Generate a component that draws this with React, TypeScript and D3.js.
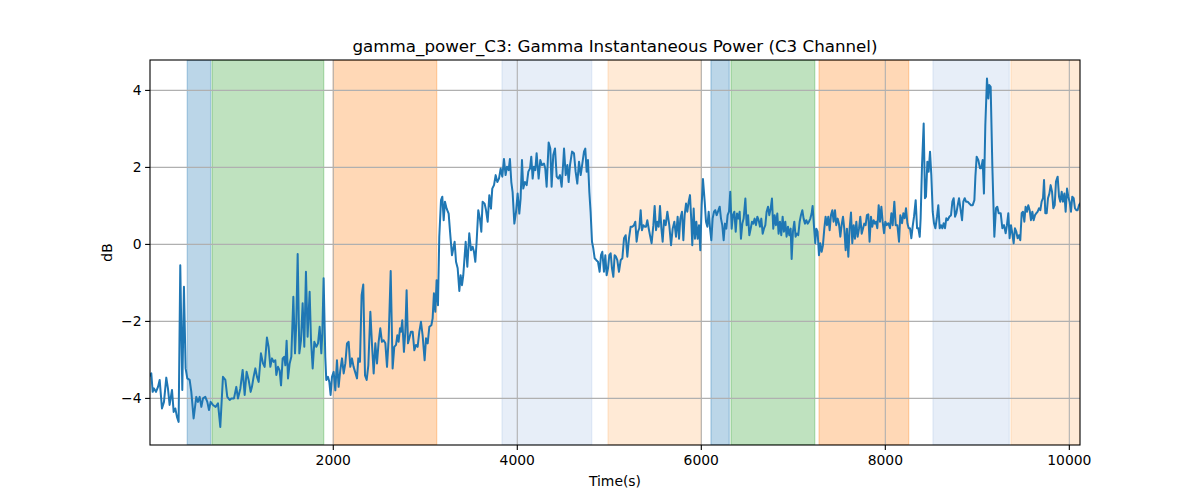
import React from 'react';
import * as d3 from 'd3';

// time (s) and gamma power (dB)
const timeS = [
  8, 22, 37, 51, 73, 95, 113, 138, 160, 185, 203, 221, 247, 265, 283, 301, 319, 337, 359, 377, 395, 413, 439, 457, 482,
  511, 529, 548, 566, 584, 609, 631, 649, 667, 692, 721, 747, 772, 801, 827, 848, 874, 892, 921, 946, 964, 990, 1015,
  1037, 1058, 1080, 1102,
  1116, 1134, 1153, 1171, 1189, 1214, 1236, 1254, 1279, 1297, 1316, 1334, 1352, 1370, 1381, 1399, 1417, 1432, 1450,
  1468, 1479, 1493, 1508, 1526, 1544, 1566, 1584, 1598, 1613, 1631, 1649, 1667, 1685, 1703, 1721, 1743, 1758, 1776,
  1794, 1816, 1834, 1852, 1870, 1881, 1895, 1913, 1924, 1942, 1957, 1971, 1986, 2004, 2022, 2040, 2058, 2076, 2095,
  2113, 2131, 2149, 2167, 2185, 2203, 2221,
  2258, 2272, 2290, 2308, 2326, 2345, 2363, 2381, 2403, 2421, 2439, 2457, 2475, 2493, 2511, 2529, 2547, 2566, 2584,
  2602, 2624, 2645, 2663, 2682, 2696, 2710, 2725, 2736, 2750, 2768, 2783, 2797, 2812, 2826, 2844, 2863, 2881, 2899,
  2917, 2935, 2953, 2971, 2993, 3008, 3026, 3044, 3066, 3080, 3094, 3109, 3123, 3138, 3152, 3171, 3185, 3200, 3214,
  3232, 3254, 3272, 3290, 3305, 3319, 3334, 3352, 3370, 3384, 3399,
  3413, 3439, 3457, 3478, 3497, 3515, 3529, 3544, 3558, 3576, 3594, 3609, 3623, 3645, 3660, 3678, 3696, 3714, 3728,
  3747, 3765, 3783, 3801, 3819, 3837, 3855, 3873, 3888, 3906, 3920, 3935, 3949, 3968, 3986, 4004, 4022, 4036, 4051,
  4065, 4083, 4102, 4120, 4138, 4152, 4167, 4181, 4196, 4210, 4232, 4250, 4268, 4290, 4304, 4319, 4341, 4359, 4373,
  4391, 4410, 4428, 4446, 4464, 4482, 4500,
  4508, 4526, 4544, 4558, 4573, 4595, 4616, 4634, 4652, 4671, 4689, 4707, 4725, 4739, 4754, 4768, 4783, 4797, 4812,
  4826, 4841, 4859, 4877, 4895, 4910, 4924, 4942, 4957, 4971, 4986, 5000, 5015, 5029, 5044, 5058, 5073, 5087, 5105,
  5124, 5142, 5160, 5178, 5196, 5214, 5232, 5250, 5268, 5283, 5297, 5312, 5326, 5341, 5355, 5370, 5384, 5399, 5413,
  5428, 5442, 5460, 5479, 5493, 5508, 5522, 5537, 5551, 5566, 5580, 5595, 5613, 5631,
  5652, 5671, 5689, 5707, 5725, 5743, 5758, 5772, 5790, 5805, 5819, 5834, 5848, 5863, 5877, 5892, 5902, 5917, 5931,
  5946, 5960, 5975, 5989, 6004, 6018, 6037, 6051, 6066, 6080, 6095, 6109, 6123, 6138, 6152, 6167, 6181, 6200, 6214,
  6228, 6243, 6257, 6272, 6286, 6301, 6315, 6330, 6344, 6359, 6374, 6388, 6402, 6417, 6431, 6446, 6460, 6479, 6493,
  6508, 6522, 6537, 6551, 6565, 6580, 6594, 6609, 6623, 6638, 6652, 6667, 6681, 6696, 6710, 6725, 6739, 6754,
  6768, 6782, 6797, 6811, 6826, 6840, 6855, 6869, 6884, 6898, 6913, 6927, 6942, 6956, 6971, 6982, 6996, 7011, 7025,
  7040, 7054, 7069, 7083, 7098, 7112, 7127, 7141, 7156, 7170, 7185, 7199, 7210, 7225, 7239, 7250, 7264, 7279, 7293,
  7308, 7322, 7337, 7351, 7366, 7380, 7395, 7409, 7424, 7438, 7453, 7467, 7482, 7496, 7511, 7525, 7540, 7554, 7569,
  7583, 7598, 7612, 7627, 7641, 7656, 7670, 7685, 7699, 7714, 7728, 7743, 7757, 7771, 7786, 7800, 7815, 7829, 7844,
  7858, 7873, 7887,
  7899, 7913, 7928, 7942, 7957, 7971, 7986, 8000, 8015, 8033, 8051, 8066, 8080, 8098, 8113, 8131, 8149, 8163, 8182,
  8196, 8211, 8225, 8240, 8254, 8268, 8283, 8297, 8312, 8330, 8345, 8359, 8374, 8384, 8399, 8417, 8431, 8442, 8457,
  8471, 8486, 8500, 8515, 8529, 8544, 8562, 8576, 8591, 8605, 8620, 8634, 8649, 8663, 8678, 8696, 8714, 8729, 8743,
  8758, 8772, 8787, 8801, 8816, 8834, 8848, 8863, 8877, 8895, 8913, 8931, 8950, 8968, 8979, 8993, 9011,
  9029, 9043, 9058, 9072, 9087, 9105, 9120, 9130, 9145, 9163, 9185, 9203, 9217, 9232, 9254, 9272, 9290, 9308, 9322,
  9337, 9351, 9366, 9380, 9395, 9409, 9424, 9438, 9453, 9467, 9482, 9496, 9511, 9525, 9540, 9554, 9569, 9583, 9598,
  9612, 9627, 9641, 9656, 9670, 9685, 9699, 9714, 9725, 9739, 9754, 9768, 9783, 9797, 9812, 9826, 9841, 9855, 9873,
  9888, 9902, 9917, 9931, 9946, 9960, 9975, 9989, 10003, 10018, 10032, 10047, 10061, 10076, 10090, 10105, 10116,
];

const gammaDb = [
  -3.4, -3.35, -3.83, -3.74, -3.83, -3.7, -3.52, -4.26, -4.09, -3.46, -3.74, -4.17, -3.78, -4.35, -4.26, -4.48, -4.61,
  -0.54, -3.78, -1.1, -3.22, -3.48, -3.52, -3.83, -4.52, -3.96, -4.09, -3.96, -4.22, -4.0, -3.96, -4.09, -4.3, -4.09,
  -4.17, -4.22, -4.13, -4.74, -3.44, -3.52, -3.96, -4.04, -4.0, -4.0, -3.7, -4.0, -3.74, -3.26, -3.91, -3.31, -3.52,
  -3.83,
  -3.7, -3.44, -3.22, -3.44, -3.57, -2.83, -3.09, -3.18, -2.42, -2.66, -3.18, -2.96, -3.05, -3.01, -3.39, -3.18, -3.27,
  -3.66, -2.96, -2.92, -3.14, -2.5, -3.48, -3.09, -2.92, -1.36, -2.83, -2.05, -0.25, -2.83, -2.49, -1.53, -2.66, -0.71,
  -2.4, -1.23, -2.49, -3.22, -2.53, -2.66, -2.57, -2.14, -2.83, -2.31, -0.88, -2.92, -3.52, -3.44, -3.57, -3.91, -3.44,
  -3.31, -3.79, -3.01, -3.7, -3.27, -2.96, -3.35, -3.09, -2.57, -2.53, -3.18, -2.96, -3.18,
  -3.48, -2.96, -3.05, -1.32, -1.04, -3.4, -3.52, -3.14, -1.75, -2.61, -3.35, -2.57, -3.09, -2.53, -2.18, -2.53, -2.49,
  -2.57, -3.18, -2.44, -0.69, -3.22, -2.66, -2.61, -2.36, -2.53, -2.18, -2.27, -1.97, -2.79, -2.27, -1.19, -2.57, -2.44,
  -2.27, -2.27, -2.75, -2.61, -2.66, -2.27, -2.01, -2.36, -3.01, -2.44, -2.57, -2.14, -2.1, -1.92, -1.27, -1.75, -0.93,
  -1.58, 0.2, 1.15, 1.24, 0.63, 1.11, 0.93, 0.8, 0.24, -0.28, -0.1, 0.07, -0.45, -0.62, -1.21, -0.8, -1.06,
  -0.8, 0.07, -0.58, 0.29, -0.15, -0.06, -0.19, -0.45, 0.07, 0.89, 0.67, 0.33, 1.11, 1.06, 0.89, 0.59, 1.28, 0.93, 1.45,
  1.54, 1.8, 1.62, 1.71, 1.97, 1.76, 2.22, 1.8, 2.02, 1.93, 2.22, 1.62, 1.36, 0.54, 0.84, 1.32, 0.8, 1.19, 2.19, 1.45,
  1.62, 1.54, 1.89, 1.97, 2.28, 1.71, 2.02, 1.93, 2.37, 1.71, 2.19, 2.06, 2.1, 1.97, 1.5, 2.65, 2.49, 1.5, 2.32, 2.49,
  1.76, 1.71, 1.8, 1.5, 2.15,
  2.49, 1.8, 2.06, 1.62, 2.06, 2.41, 2.37, 1.89, 1.58, 2.15, 1.8, 2.1, 2.41, 2.49, 1.89, 2.19, 1.36, 0.84, 0.07, -0.1,
  -0.36, -0.41, -0.45, -0.71, -0.28, -0.19, -0.71, -0.28, -0.8, -0.62, -0.28, -0.23, -0.62, -0.84, -0.28, -0.32, -0.41,
  -0.71, -0.41, -0.36, 0.16, 0.24, -0.32, 0.16, 0.46, 0.46, 0.5, 0.59, 0.07, 0.33, 0.42, 0.89, 0.37, 0.5, 0.46, 0.46,
  0.63, 0.42, 0.24, 0.03, 0.5, 1.0, 0.37, 0.59, 0.46, 1.0, 0.42, 0.07, 0.63, 0.5, 0.85,
  0.5, -0.02, 0.41, 0.59, 0.2, 0.72, 0.15, 0.67, 0.85, 0.11, 0.76, 1.06, 0.85, 1.11, 1.28, 0.59, -0.02, 0.93, 0.15,
  0.59, 0.15, 0.5, -0.15, 1.02, 1.7, 1.11, 0.59, 0.46, 0.85, 0.41, 0.11, 0.67, 0.85, 0.89, 0.76, 0.85, 0.98, 0.67,
  0.5, 0.11, 0.54, 0.41, 0.76, 0.85, 1.37, 0.41, 0.76, 0.85, 0.33, 0.8, 0.67, 0.85, 0.15, 0.54, 0.67, 1.19, 0.5,
  0.76, 0.24, 0.41, 0.59, 0.54, 0.67, 0.5, 0.72, 0.63, 0.46, 0.67, 0.28, 0.41, 0.5, 0.85, 0.98, 0.76, 0.93,
  1.19, 0.41, 0.76, 0.5, 0.8, 0.28, 0.59, 0.24, 0.72, 0.33, 0.59, 0.2, 0.46, 0.24, 0.41, -0.38, 0.33, 0.59, 0.2,
  0.28, 0.24, 0.59, 0.76, 0.89, 0.67, 0.54, 0.63, 0.54, 0.59, 0.67, 0.8, 1.0, 0.46, 0.03, 0.41, 0.33, -0.28, 0.03,
  -0.19, -0.02, 0.41, 0.72, 0.5, 0.72, 0.37, 0.76, 0.89, 0.59, 0.89, 0.5, 0.67, 0.54, 0.2, 0.5, 0.72, 0.41, -0.15,
  0.41, -0.32, 0.41, 0.83, 0.03, 0.5, 0.15, 0.59, 0.2, 0.41, 0.72, 0.28, 0.41, 0.54, 0.5, 0.76, 0.78, 0.07, 0.72,
  0.46, 0.63, 0.54,
  0.59, 0.42, 1.02, 0.59, 0.98, 0.59, 0.29, 0.59, 0.5, 0.55, 0.42, 0.81, 0.5, 1.11, 0.5, 0.5, 0.07, 0.76, 0.55,
  0.81, 0.68, 0.94, 0.55, 0.42, 0.42, 0.16, 0.46, 0.72, 1.15, 0.42, 0.42, 0.2, 0.68, 2.06, 3.14, 1.2, 1.24, 2.15,
  1.89, 2.41, 1.8, 0.85, 0.55, 0.42, 0.72, 1.02, 0.42, 0.5, 0.42, 0.55, 0.42, 0.68, 0.63, 0.72, 0.76, 1.11, 1.2,
  0.72, 0.81, 1.02, 1.2, 0.94, 0.63, 1.11, 1.2, 1.11, 1.11, 1.06, 1.02, 1.02, 1.15, 1.76, 2.28, 2.19,
  1.98, 1.98, 2.19, 1.32, 3.1, 4.31, 3.79, 4.14, 4.09, 2.06, 0.2, 0.94, 0.98, 0.81, 0.81, 0.42, 0.5, 0.29, 0.5,
  0.81, 0.16, 0.5, 0.29, 0.03, 0.42, 0.33, 0.16, 0.24, 0.11, 0.81, 0.85, 0.59, 0.98, 0.85, 1.02, 0.89, 0.63, 0.85,
  0.63, 0.76, 0.81, 0.85, 0.94, 0.89, 1.11, 1.2, 1.67, 0.81, 0.81, 1.2, 1.32, 1.54, 1.37, 0.94, 1.02, 1.63, 1.76,
  1.24, 1.11, 1.37, 1.11, 1.32, 0.85, 1.45, 1.24, 1.11, 0.85, 1.24, 1.2, 0.94, 0.89, 0.89, 1.02, 1.06,
];

// shaded phases
const spanStart = [413, 682, 2000, 3834, 4986, 6105, 6323, 7280, 8518, 9366];
const spanEnd = [667, 1896, 3124, 4809, 6000, 6304, 7233, 8254, 9347, 10116];
const spanColor = ['#1f77b4', '#2ca02c', '#ff7f0e', '#aec7e8', '#ffbb78', '#1f77b4', '#2ca02c', '#ff7f0e', '#aec7e8', '#ffbb78'];

const xTicks = [2000, 4000, 6000, 8000, 10000];
const yTicks = [-4, -2, 0, 2, 4];

const W = 1200;
const H = 500;
const margin = { top: 60, right: 120, bottom: 55, left: 150 };

const App: React.FC = () => {
  const x = d3.scaleLinear().domain([8, 10116]).range([margin.left, W - margin.right]);
  const y = d3.scaleLinear().domain([-5.21, 4.79]).range([H - margin.bottom, margin.top]);
  const line = d3.line<number>()
    .x((_, i) => x(timeS[i]))
    .y(d => y(d));
  const path = line(gammaDb) || '';
  const x0 = margin.left;
  const x1 = W - margin.right;
  const y0 = H - margin.bottom;
  const y1 = margin.top;
  const font = '"DejaVu Sans", sans-serif';
  const fmt = (v: number) => (v < 0 ? '\u2212' + Math.abs(v) : String(v));

  return (
    <svg width={W} height={H} style={{ display: 'block', margin: '-8px' }} fontFamily={font}>
      <rect width={W} height={H} fill="#fff" />
      <defs>
        <clipPath id="plot">
          <rect x={x0} y={y1} width={x1 - x0} height={y0 - y1} />
        </clipPath>
      </defs>
      <g clipPath="url(#plot)">
        {spanStart.map((s, i) => (
          <rect
            key={i}
            x={x(s)}
            y={y1}
            width={x(spanEnd[i]) - x(s)}
            height={y0 - y1}
            fill={spanColor[i]}
            fillOpacity={0.3}
            stroke={spanColor[i]}
            strokeOpacity={0.3}
            strokeWidth={1.3}
          />
        ))}
        {xTicks.map(t => (
          <line key={'gx' + t} x1={x(t)} x2={x(t)} y1={y1} y2={y0} stroke="#b0b0b0" strokeWidth={1.1} />
        ))}
        {yTicks.map(t => (
          <line key={'gy' + t} x1={x0} x2={x1} y1={y(t)} y2={y(t)} stroke="#b0b0b0" strokeWidth={1.1} />
        ))}
        <path d={path} fill="none" stroke="#1f77b4" strokeWidth={2} strokeLinejoin="round" strokeLinecap="square" />
      </g>
      <rect x={x0} y={y1} width={x1 - x0} height={y0 - y1} fill="none" stroke="#000" strokeWidth={1.1} />
      {xTicks.map(t => (
        <g key={'tx' + t}>
          <line x1={x(t)} x2={x(t)} y1={y0} y2={y0 + 4.9} stroke="#000" strokeWidth={1.1} />
          <text x={x(t)} y={y0 + 20} textAnchor="middle" fontSize={13.9}>{t}</text>
        </g>
      ))}
      {yTicks.map(t => (
        <g key={'ty' + t}>
          <line x1={x0 - 4.9} x2={x0} y1={y(t)} y2={y(t)} stroke="#000" strokeWidth={1.1} />
          <text x={x0 - 8.5} y={y(t) + 5} textAnchor="end" fontSize={13.9}>{fmt(t)}</text>
        </g>
      ))}
      <text x={(x0 + x1) / 2} y={51.5} textAnchor="middle" fontSize={16.7}>
        gamma_power_C3: Gamma Instantaneous Power (C3 Channel)
      </text>
      <text x={(x0 + x1) / 2} y={486} textAnchor="middle" fontSize={13.9}>Time(s)</text>
      <text transform={`translate(112,${(y0 + y1) / 2}) rotate(-90)`} textAnchor="middle" fontSize={13.9}>dB</text>
    </svg>
  );
};

export default App;
